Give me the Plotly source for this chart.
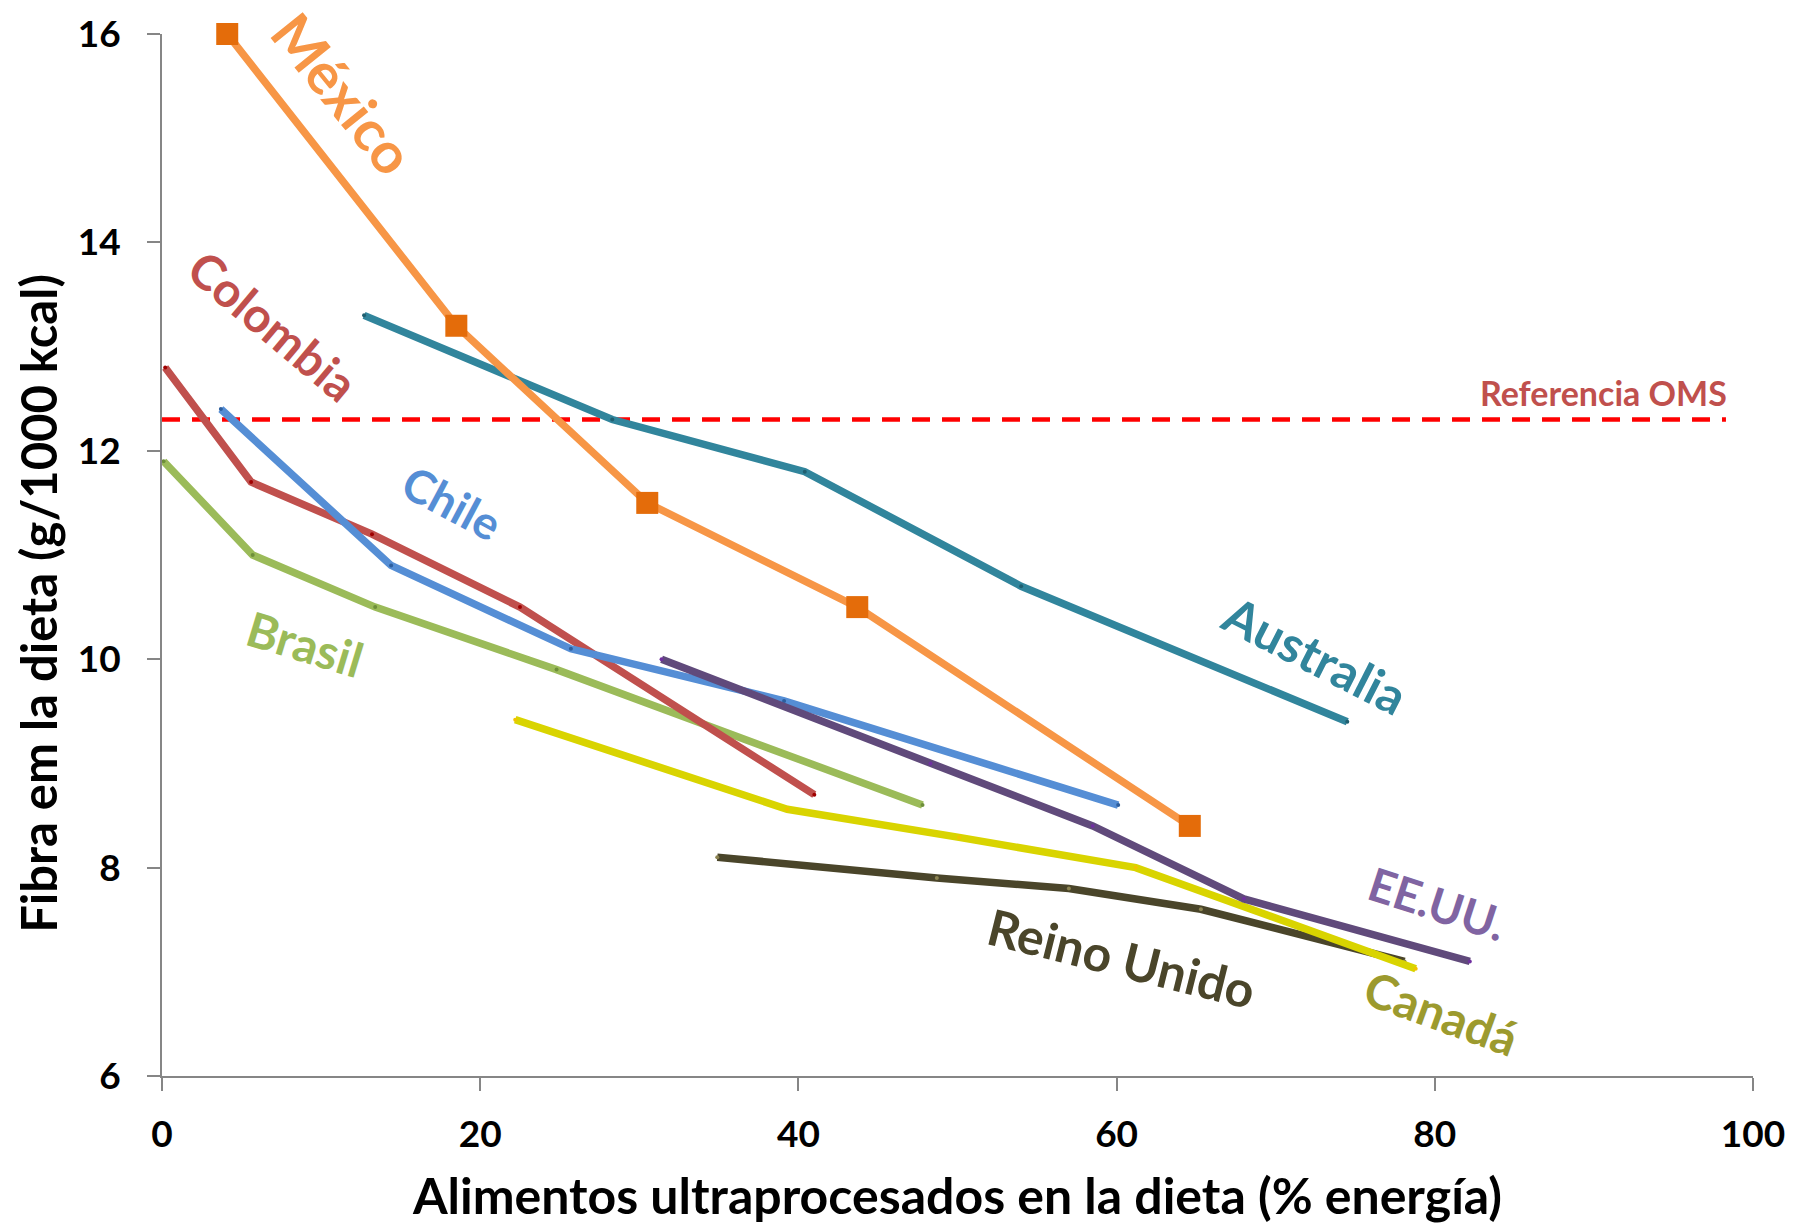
import plotly.graph_objects as go

# Fibre density of the diet by quintile of ultra-processed food share
mexico_x = [4.1, 18.5, 30.5, 43.7, 64.6]
mexico_y = [16.0, 13.2, 11.5, 10.5, 8.4]

australia_x = [12.7, 28.3, 40.4, 54.0, 74.5]
australia_y = [13.3, 12.3, 11.8, 10.7, 9.4]

colombia_x = [0.2, 5.6, 13.2, 22.5, 41.0]
colombia_y = [12.8, 11.7, 11.2, 10.5, 8.7]

chile_x = [3.7, 14.4, 25.7, 39.1, 60.1]
chile_y = [12.4, 10.9, 10.1, 9.6, 8.6]

brasil_x = [0.1, 5.7, 13.4, 24.8, 47.8]
brasil_y = [11.9, 11.0, 10.5, 9.9, 8.6]

eeuu_x = [31.4, 48.3, 58.5, 68.0, 82.2]
eeuu_y = [10.0, 9.0, 8.4, 7.7, 7.1]

canada_x = [22.2, 39.3, 50.1, 61.2, 78.8]
canada_y = [9.42, 8.56, 8.29, 8.0, 7.03]

reino_unido_x = [34.9, 48.7, 57.0, 65.3, 78.1]
reino_unido_y = [8.1, 7.9, 7.8, 7.6, 7.1]

who_reference = 12.3

x_ticks = [0, 20, 40, 60, 80, 100]
y_ticks = [6, 8, 10, 12, 14, 16]

FONT = "Lato"

series = [
    # name, x, y, line colour, vertex-dot colour
    ("Reino Unido", reino_unido_x, reino_unido_y, "#4A452A", "#8C8452"),
    ("Canadá", canada_x, canada_y, "#D9D400", "#F2C200"),
    ("Brasil", brasil_x, brasil_y, "#9BBB59", "#6E8F3A"),
    ("Colombia", colombia_x, colombia_y, "#C0504D", "#A00000"),
    ("Chile", chile_x, chile_y, "#558ED5", "#2C5E9E"),
    ("EE.UU.", eeuu_x, eeuu_y, "#604A7B", "#7030A0"),
    ("Australia", australia_x, australia_y, "#31859C", "#1F5F70"),
]

fig = go.Figure()

# WHO reference level
fig.add_trace(go.Scatter(
    x=[0, 98.3], y=[who_reference, who_reference], mode="lines",
    line=dict(color="#FF0000", width=4.5, dash="18px,12px"),
    hoverinfo="skip", showlegend=False,
))

for name, xs, ys, col, dot in series:
    fig.add_trace(go.Scatter(
        x=xs, y=ys, mode="lines+markers", name=name,
        line=dict(color=col, width=7.5),
        marker=dict(size=4, color=dot),
        showlegend=False, cliponaxis=False,
    ))

fig.add_trace(go.Scatter(
    x=mexico_x, y=mexico_y, mode="lines+markers", name="México",
    line=dict(color="#F79646", width=7.5),
    marker=dict(symbol="square", size=22, color="#E46C0A"),
    showlegend=False, cliponaxis=False,
))

labels = [
    # text, x, y, angle, colour, size
    ("México", 11.4, 15.43, 51, "#F79646", 57),
    ("Colombia", 7.0, 13.2, 40, "#C0504D", 48),
    ("Chile", 18.2, 11.5, 28, "#558ED5", 46),
    ("Brasil", 9.0, 10.15, 17, "#9BBB59", 48),
    ("Australia", 72.5, 10.04, 27, "#31859C", 50),
    ("EE.UU.", 80.2, 7.66, 18, "#8064A2", 46),
    ("Reino Unido", 60.3, 7.13, 14, "#4A452A", 50),
    ("Canadá", 80.4, 6.61, 20, "#9C9A2E", 48),
]
for text, x, y, ang, col, size in labels:
    fig.add_annotation(
        x=x, y=y, text=f"<b>{text}</b>", textangle=ang, showarrow=False,
        xanchor="center", yanchor="middle",
        font=dict(family=FONT, size=size, color=col),
    )

fig.add_annotation(
    x=90.6, y=12.56, text="<b>Referencia OMS</b>", showarrow=False,
    xanchor="center", yanchor="middle",
    font=dict(family=FONT, size=34, color="#C0504D"),
)

fig.add_annotation(
    xref="paper", yref="paper", x=-0.078, y=0.454,
    text="<b>Fibra em la dieta (g/1000 kcal)</b>", textangle=-90,
    showarrow=False, xanchor="center", yanchor="middle",
    font=dict(family=FONT, size=49, color="#000000"),
)

fig.update_layout(
    width=1793, height=1225,
    margin=dict(l=162, r=40, t=34, b=149),
    paper_bgcolor="white", plot_bgcolor="white",
    font=dict(family=FONT, color="#000000"),
    xaxis=dict(
        range=[0, 100], tickvals=x_ticks, ticktext=[f"<b>{v}</b>" for v in x_ticks],
        showgrid=False, zeroline=False, showline=True, linecolor="#868686",
        linewidth=2, ticks="outside", ticklen=13, tickwidth=1.5, tickcolor="#868686",
        tickfont=dict(family=FONT, size=37), ticklabelstandoff=12, automargin=False,
        title=dict(text="<b>Alimentos ultraprocesados en la dieta (% energía)</b>",
                   font=dict(family=FONT, size=50), standoff=34),
    ),
    yaxis=dict(
        range=[6, 16], tickvals=y_ticks, ticktext=[f"<b>{v}</b>" for v in y_ticks],
        showgrid=False, zeroline=False, showline=True, linecolor="#868686",
        linewidth=2, ticks="outside", ticklen=13, tickwidth=1.5, tickcolor="#868686",
        tickfont=dict(family=FONT, size=37), ticklabelstandoff=19, automargin=False,
    ),
)

fig.write_html("out.html")
